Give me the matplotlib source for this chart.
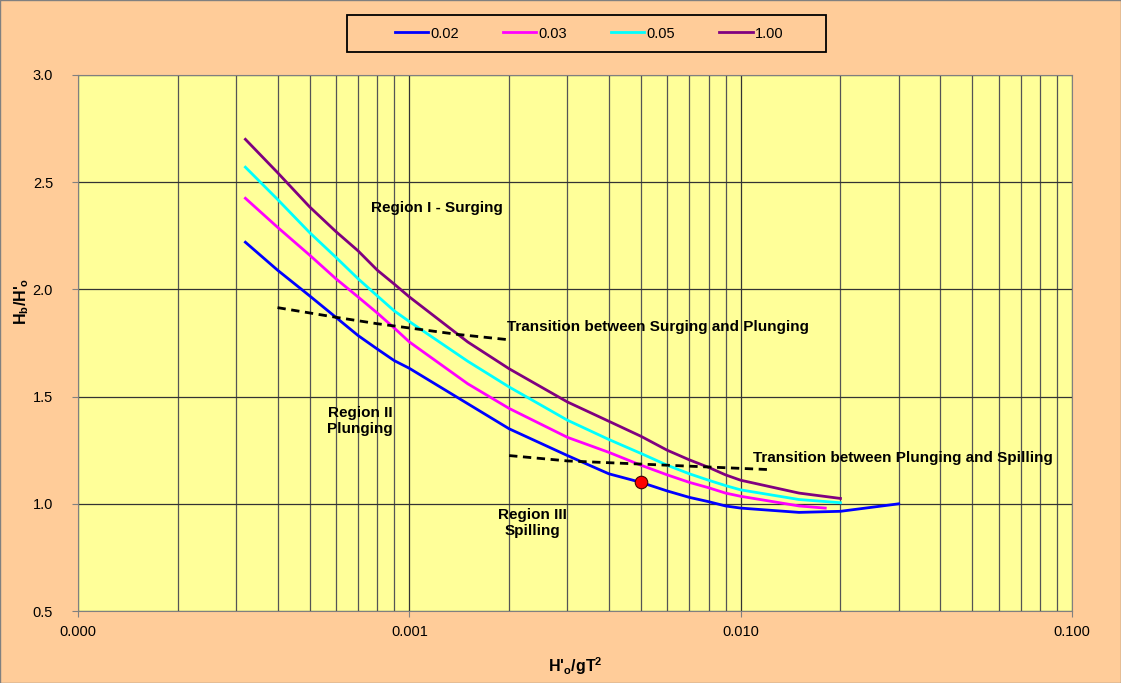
import numpy as np
import matplotlib
matplotlib.use("Agg")
import matplotlib.pyplot as plt
from matplotlib.ticker import FixedLocator, FormatStrFormatter, NullFormatter

plt.rcParams['font.family'] = ['Liberation Sans', 'DejaVu Sans']
plt.rcParams['mathtext.fontset'] = 'custom'
plt.rcParams['mathtext.rm'] = 'Liberation Sans'
plt.rcParams['mathtext.bf'] = 'Liberation Sans:bold'

# --- data ---
x_002 = [0.00032, 0.0004, 0.0005, 0.0006, 0.0007, 0.0008, 0.0009, 0.001, 0.0015, 0.002, 0.003,
         0.004, 0.005, 0.006, 0.007, 0.008, 0.009, 0.01, 0.015, 0.02, 0.03]
y_002 = [2.22, 2.09, 1.97, 1.87, 1.785, 1.722, 1.668, 1.632, 1.467, 1.35, 1.225,
         1.14, 1.10, 1.06, 1.03, 1.01, 0.99, 0.98, 0.96, 0.965, 1.0]

x_003 = [0.00032, 0.0004, 0.0005, 0.0006, 0.0007, 0.0008, 0.0009, 0.001, 0.0015, 0.002,
         0.003, 0.004, 0.005, 0.006, 0.007, 0.008, 0.009, 0.01, 0.015, 0.018]
y_003 = [2.425, 2.29, 2.16, 2.05, 1.965, 1.89, 1.82, 1.755, 1.56, 1.445,
         1.31, 1.24, 1.18, 1.135, 1.10, 1.075, 1.05, 1.035, 0.99, 0.98]

x_005 = [0.00032, 0.0004, 0.0005, 0.0006, 0.0007, 0.0008, 0.0009, 0.001, 0.0015, 0.002,
         0.003, 0.004, 0.005, 0.006, 0.007, 0.008, 0.009, 0.01, 0.015, 0.02]
y_005 = [2.57, 2.42, 2.265, 2.15, 2.05, 1.97, 1.90, 1.85, 1.665, 1.545,
         1.39, 1.30, 1.235, 1.18, 1.14, 1.11, 1.085, 1.065, 1.02, 1.005]

x_100 = [0.00032, 0.0004, 0.0005, 0.0006, 0.0007, 0.0008, 0.0009, 0.001, 0.0015, 0.002,
         0.003, 0.004, 0.005, 0.006, 0.007, 0.008, 0.009, 0.01, 0.015, 0.02]
y_100 = [2.70, 2.545, 2.385, 2.27, 2.18, 2.09, 2.025, 1.965, 1.755, 1.63,
         1.475, 1.385, 1.315, 1.25, 1.205, 1.17, 1.135, 1.11, 1.05, 1.025]

# transition lines (dashed)
x_surg_plung = [0.0004, 0.0006, 0.0008, 0.0014, 0.002]
y_surg_plung = [1.915, 1.87, 1.84, 1.79, 1.765]
x_plung_spill = [0.002, 0.003, 0.006, 0.012]
y_plung_spill = [1.225, 1.20, 1.18, 1.16]

# example point
pt_x, pt_y = 0.005, 1.10

series = [
    ('0.02', x_002, y_002, '#0000FF'),
    ('0.03', x_003, y_003, '#FF00FF'),
    ('0.05', x_005, y_005, '#00FFFF'),
    ('1.00', x_100, y_100, '#800080'),
]

fig = plt.figure(figsize=(11.21, 6.83), dpi=100, facecolor='#FFCC99')
ax = fig.add_axes([0.0696, 0.1054, 0.8867, 0.7848])
ax.set_facecolor('#FFFF99')

ax.set_xscale('log')
ax.set_xlim(0.0001, 0.1)
ax.set_ylim(0.5, 3.0)

# grid: every decade and sub-decade line
minor = [m * 10.0 ** e for e in range(-4, -1) for m in range(2, 10)]
ax.xaxis.set_major_locator(FixedLocator([0.0001, 0.001, 0.01, 0.1]))
ax.xaxis.set_minor_locator(FixedLocator(minor))
ax.xaxis.set_major_formatter(FormatStrFormatter('%.3f'))
ax.xaxis.set_minor_formatter(NullFormatter())
ax.set_yticks([0.5, 1.0, 1.5, 2.0, 2.5, 3.0])
ax.yaxis.set_major_formatter(FormatStrFormatter('%.1f'))
ax.grid(True, which='major', color='#333333', linewidth=0.9)
ax.grid(True, which='minor', axis='x', color='#555555', linewidth=0.9)
ax.tick_params(which='major', direction='out', length=4, labelsize=10.5, color='#808080', pad=6)
ax.tick_params(axis='y', pad=14)
ax.tick_params(which='minor', length=0)
for s in ax.spines.values():
    s.set_color('#808080')

for name, xs, ys, c in series:
    ax.plot(xs, ys, color=c, linewidth=2, label=name, zorder=3)

ax.plot(x_surg_plung, y_surg_plung, color='black', linestyle=(0, (3, 2)), linewidth=2, zorder=4)
ax.plot(x_plung_spill, y_plung_spill, color='black', linestyle=(0, (3, 2)), linewidth=2, zorder=4)
ax.plot([pt_x], [pt_y], 'o', markersize=9, markerfacecolor='#FF0000',
        markeredgecolor='#400000', markeredgewidth=0.8, zorder=5)

txt = dict(fontsize=11, fontweight='bold', color='black', zorder=6)
ax.text(0.00121, 2.38, 'Region I - Surging', ha='center', va='center', **txt)
ax.text(0.00197, 1.825, 'Transition between Surging and Plunging', ha='left', va='center', **txt)
ax.text(0.00071, 1.385, 'Region II\nPlunging', ha='center', va='center', linespacing=1.15, **txt)
ax.text(0.0109, 1.215, 'Transition between Plunging and Spilling', ha='left', va='center', **txt)
ax.text(0.00236, 0.91, 'Region III\nSpilling', ha='center', va='center', linespacing=1.15, **txt)

ax.set_xlabel("H'$_\\mathbf{o}$/gT$^\\mathbf{2}$", fontsize=11.5, fontweight='bold')
ax.set_ylabel("H$_\\mathbf{b}$/H'$_\\mathbf{o}$", fontsize=11.5, fontweight='bold')
ax.xaxis.set_label_coords(0.5, -0.082)
ax.yaxis.set_label_coords(-0.047, 0.578)

# legend box drawn separately, entries centred inside it
fig.patches.append(plt.Rectangle((347 / 1121, 1 - 52 / 683), 479 / 1121, 37 / 683,
                                 transform=fig.transFigure, facecolor='#FFCC99',
                                 edgecolor='black', linewidth=1.3))
leg = fig.legend(loc='center', ncol=4, fontsize=10.5,
                 bbox_to_anchor=(589 / 1121, 1 - 33.5 / 683),
                 frameon=False, handlelength=2.3, handletextpad=0.15,
                 columnspacing=3.0, borderpad=0, borderaxespad=0)

fig.patches.append(plt.Rectangle((0, 0), 1, 1, transform=fig.transFigure,
                                 fill=False, edgecolor='#808080', linewidth=1))

fig.savefig('out.png', dpi=100, facecolor=fig.get_facecolor())
